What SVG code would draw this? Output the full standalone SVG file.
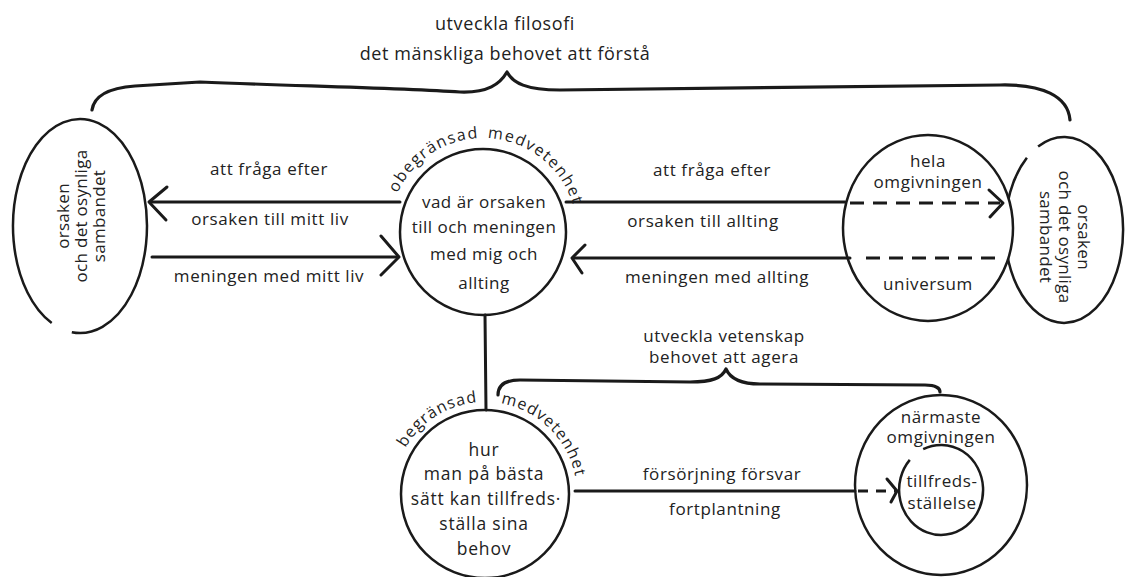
<svg xmlns="http://www.w3.org/2000/svg" width="1128" height="577" viewBox="0 0 1128 577">
<defs>
<style>
.bg{fill:#fff}
.shape{fill:#fff;stroke:#1a1a1a;stroke-width:2.5}
.open{fill:none;stroke:#1a1a1a;stroke-width:2.5}
.line{fill:none;stroke:#1a1a1a;stroke-width:3;stroke-linecap:round}
.dash{fill:none;stroke:#1a1a1a;stroke-width:3;stroke-dasharray:14 9}
.head{fill:none;stroke:#1a1a1a;stroke-width:3;stroke-linecap:round;stroke-linejoin:round}
.brace{fill:none;stroke:#1a1a1a;stroke-width:3.2;stroke-linecap:round;stroke-linejoin:round}
text{font-family:"Open Sans","DejaVu Sans",sans-serif;fill:#222;text-anchor:middle;dominant-baseline:central}
.lbl{font-size:17px;letter-spacing:0.6px}
.in{font-size:17px;letter-spacing:0.5px}
.inb{font-size:17.5px;letter-spacing:0.8px}
.ell{font-size:17px;letter-spacing:0.3px}
.top{font-size:18px;letter-spacing:0.6px}
.arc{font-size:16px;letter-spacing:1.5px;text-anchor:start;dominant-baseline:auto}
.arcb{font-size:16px;letter-spacing:1.1px;text-anchor:start;dominant-baseline:auto}
</style>
<path id="arcTop" d="M 389,232 A 94 94 0 0 1 577,232"/>
<path id="arcBot" d="M 393,494 A 92 92 0 0 1 577,494"/>
</defs>
<rect class="bg" x="0" y="0" width="1128" height="577"/>

<g id="braces">
<path class="brace" d="M 92,110 C 94,96 108,88 135,86 L 200,82 C 300,86 400,88 460,92 C 488,93 500,84 507,72 C 513,83 526,90 560,90 L 1000,85 C 1042,84 1068,96 1070,120"/>
<text class="top" x="505" y="23">utveckla filosofi</text>
<text class="top" x="505" y="53">det mänskliga behovet att förstå</text>
<path class="brace" d="M 498,395 C 498,385 505,380 520,380 L 690,382 C 712,382 722,378 726,369 C 730,378 740,384 760,384 L 925,385 C 935,385 940,388 940,392"/>
<text class="lbl" x="724" y="335">utveckla vetenskap</text>
<text class="lbl" x="724" y="356">behovet att agera</text>
</g>

<g id="node-left">
<path class="open" d="M 71.8,332.2 A 67 107 0 1 0 51.7,323"/>
<text class="ell" transform="translate(80,216) rotate(-90)"><tspan x="0" y="-18">orsaken</tspan><tspan x="0" y="0">och det osynliga</tspan><tspan x="0" y="18">sambandet</tspan></text>
</g>

<g id="node-right-ellipse">
<path class="shape" d="M 1038.1,146.4 A 59 93 0 1 1 1026.9,157.7"/>
<text class="ell" transform="translate(1065,237) rotate(90)"><tspan x="0" y="-20">orsaken</tspan><tspan x="0" y="-1">och det osynliga</tspan><tspan x="0" y="18">sambandet</tspan></text>
</g>

<g id="node-universe">
<ellipse class="shape" cx="928" cy="228" rx="85" ry="93"/>
<text class="lbl" x="928" y="160">hela</text>
<text class="lbl" x="928" y="181">omgivningen</text>
<text class="lbl" x="928" y="283">universum</text>
</g>

<g id="node-center">
<circle class="shape" cx="483" cy="232" r="83"/>
<text class="in" x="484" y="201">vad är orsaken</text>
<text class="in" x="484" y="226">till och meningen</text>
<text class="in" x="484" y="253">med mig och</text>
<text class="in" x="484" y="282">allting</text>
<text class="arc"><textPath href="#arcTop" startOffset="40">obegränsad</textPath></text>
<text class="arc"><textPath href="#arcTop" startOffset="152">medvetenhet</textPath></text>
</g>

<g id="node-bottom">
<circle class="shape" cx="485" cy="494" r="84"/>
<text class="inb" x="484" y="449">hur</text>
<text class="inb" x="484" y="473">man på bästa</text>
<text class="inb" x="486" y="498">sätt kan tillfreds·</text>
<text class="inb" x="484" y="523">ställa sina</text>
<text class="inb" x="484" y="548">behov</text>
<text class="arcb"><textPath href="#arcBot" startOffset="48">begränsad</textPath></text>
<text class="arcb"><textPath href="#arcBot" startOffset="160">medvetenhet</textPath></text>
</g>

<g id="node-near">
<ellipse class="shape" cx="941" cy="485" rx="86" ry="90"/>
<text class="lbl" x="941" y="416">närmaste</text>
<text class="lbl" x="941" y="436">omgivningen</text>
<path class="open" d="M 923.2,449.2 A 42 45 0 1 1 909.8,459.9"/>
<text class="lbl" x="942" y="480">tillfreds-</text>
<text class="lbl" x="942" y="502">ställelse</text>
</g>

<g id="connectors">
<line class="line" x1="150" y1="202" x2="400" y2="202"/>
<polyline class="head" points="167,187 149,202 166,220"/>
<line class="line" x1="152" y1="257" x2="398" y2="257"/>
<polyline class="head" points="381,236 399,257 381,275"/>
<line class="line" x1="566" y1="202" x2="845" y2="202"/>
<line class="dash" x1="850" y1="203" x2="1000" y2="203"/>
<polyline class="head" points="989,190 1003,203 990,217"/>
<line class="line" x1="573" y1="258" x2="850" y2="258"/>
<polyline class="head" points="585,245 572,258 582,273"/>
<line class="dash" x1="866" y1="258" x2="1000" y2="258"/>
<line class="line" x1="485" y1="315" x2="486" y2="410"/>
<line class="line" x1="575" y1="491" x2="855" y2="491"/>
<line class="dash" x1="858" y1="491" x2="895" y2="491" style="stroke-dasharray:10 8"/>
<polyline class="head" points="887,479 897,491 891,502"/>
<text class="lbl" x="269" y="168">att fråga efter</text>
<text class="lbl" x="270" y="218">orsaken till mitt liv</text>
<text class="lbl" x="269" y="275">meningen med mitt liv</text>
<text class="lbl" x="712" y="169">att fråga efter</text>
<text class="lbl" x="703" y="220">orsaken till allting</text>
<text class="lbl" x="717" y="276">meningen med allting</text>
<text class="lbl" x="722" y="473">försörjning försvar</text>
<text class="lbl" x="725" y="508">fortplantning</text>
</g>
</svg>
